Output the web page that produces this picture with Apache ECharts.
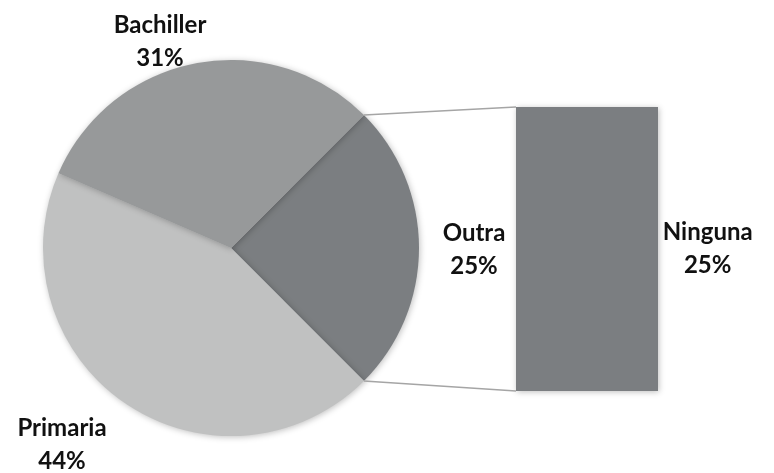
<!DOCTYPE html>
<html>
<head>
<meta charset="utf-8">
<script src="https://cdn.jsdelivr.net/npm/echarts@6/dist/echarts.min.js"></script>
<style>html,body{margin:0;padding:0;background:#fff}#c{width:774px;height:473px}</style>
</head>
<body>
<div id="c"></div>
<script>
// Data
var pieNames = ['Outra', 'Primaria', 'Bachiller'];
var pieValues = [25, 44, 31];
var barCategories = ['Ninguna'];
var barValues = [25];

// Styles / layout
var pieColors = {'Outra': '#7b7e81', 'Primaria': '#c0c1c1', 'Bachiller': '#97999a'};
var barColor = '#7b7e81';
var pieCenter = [231, 248];
var pieRadius = 188;
var gridBox = {left: 516, top: 107, width: 142, height: 284};
var labelPos = {
  'Bachiller': [160, 42],
  'Outra': [474, 250],
  'Primaria': [62, 445]
};
var fontFamily = 'Lato, "Open Sans", sans-serif';

var total = pieValues.reduce(function (a, b) { return a + b; }, 0);
var halfAngle = pieValues[0] / total * 360 / 2;

var chart = echarts.init(document.getElementById('c'), null, {renderer: 'canvas'});
var pieData = pieNames.map(function (n, i) {
  return {name: n, value: pieValues[i], itemStyle: {color: pieColors[n]}};
});

chart.setOption({
  animation: false,
  backgroundColor: '#ffffff',
  grid: {left: gridBox.left, top: gridBox.top, width: gridBox.width, height: gridBox.height},
  xAxis: {type: 'category', data: barCategories, show: false},
  yAxis: {type: 'value', min: 0, max: barValues[0], show: false},
  series: [
    {
      type: 'pie',
      center: pieCenter,
      radius: pieRadius,
      startAngle: halfAngle,
      clockwise: true,
      data: pieData,
      itemStyle: {borderWidth: 0, shadowBlur: 6, shadowColor: 'rgba(0,0,0,0.25)', shadowOffsetX: 1, shadowOffsetY: 1},
      label: {
        show: true,
        position: 'outside',
        overflow: 'none',
        formatter: function (p) { return p.name + '\n' + Math.round(p.percent) + '%'; },
        fontFamily: fontFamily,
        fontWeight: 'bold',
        fontSize: 24,
        lineHeight: 33,
        color: '#111111'
      },
      labelLine: {show: false},
      labelLayout: function (params) {
        var name = pieNames[params.dataIndex];
        var p = labelPos[name];
        return {x: p[0], y: p[1], width: 160, align: 'center', verticalAlign: 'middle'};
      },
      emphasis: {disabled: true}
    },
    {
      type: 'bar',
      data: barValues,
      barWidth: '100%',
      itemStyle: {color: barColor, shadowBlur: 6, shadowColor: 'rgba(0,0,0,0.25)', shadowOffsetX: 1, shadowOffsetY: 1},
      label: {
        show: true,
        position: ['135%', '50%'],
        align: 'center',
        verticalAlign: 'middle',
        formatter: function (p) { return p.name + '\n' + p.value + '%'; },
        fontFamily: fontFamily,
        fontWeight: 'bold',
        fontSize: 24,
        lineHeight: 33,
        color: '#111111'
      },
      emphasis: {disabled: true}
    }
  ]
});

// Connector lines from the Outra slice edges to the bar corners
var a = halfAngle * Math.PI / 180;
var px = pieCenter[0] + pieRadius * Math.cos(a);
var pyTop = pieCenter[1] - pieRadius * Math.sin(a);
var pyBot = pieCenter[1] + pieRadius * Math.sin(a);
var barTop = chart.convertToPixel({yAxisIndex: 0}, barValues[0]);
var barBot = chart.convertToPixel({yAxisIndex: 0}, 0);
var barLeft = gridBox.left;
chart.setOption({
  graphic: [
    {type: 'line', z: 10, shape: {x1: px, y1: pyTop, x2: barLeft, y2: barTop}, style: {stroke: '#a5a5a5', lineWidth: 1.5}},
    {type: 'line', z: 10, shape: {x1: px, y1: pyBot, x2: barLeft, y2: barBot}, style: {stroke: '#a5a5a5', lineWidth: 1.5}}
  ]
});
</script>
</body>
</html>
